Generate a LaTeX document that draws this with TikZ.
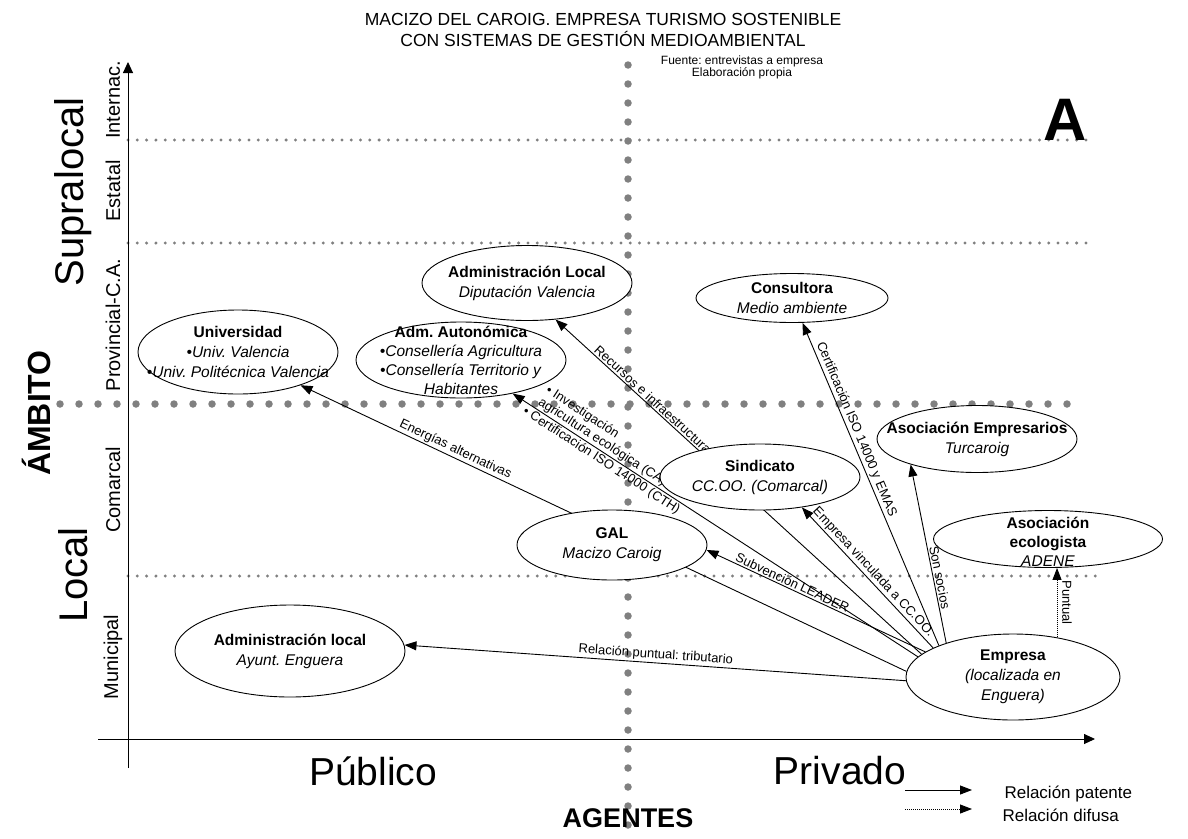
\documentclass[tikz,border=0pt]{standalone}
\usepackage{fontspec}
\setmainfont{Liberation Sans}
\frenchspacing
\usetikzlibrary{shapes.geometric, arrows.meta, positioning, calc, backgrounds}

\begin{document}
\begin{tikzpicture}[x=1pt, y=-1pt,
        blob/.style={ellipse, draw, line width=0.9pt, fill=white, inner sep=0pt},
        ntext/.style={align=center, inner sep=0pt, font=\fontsize{15.5}{20}\selectfont},
        rel/.style={-{Triangle[length=12pt, width=9pt]}, line width=0.9pt},
        diffuse/.style={rel, dash pattern=on 1pt off 1pt},
        elabel/.style={sloped, inner sep=1.5pt, font=\fontsize{13}{14}\selectfont},
        axis/.style={-{Triangle[length=11pt, width=10pt]}, line width=0.9pt},
        bigdots/.style={gray, line width=7.5pt, line cap=round, dash pattern=on 0pt off 19pt},
        smalldots/.style={gray, line width=3.3pt, line cap=round, dash pattern=on 0pt off 9.3pt},
        level/.style={rotate=90, inner sep=0pt, font=\fontsize{20}{20}\selectfont},
        scale label/.style={rotate=90, inner sep=0pt, font=\fontsize{40}{40}\selectfont}
    ]
        \useasboundingbox (0,0) rectangle (1188,838);

        % Titles
        \node[align=center, font=\fontsize{17.5}{21}\selectfont] (title) at (603,30)
            {MACIZO DEL CAROIG. EMPRESA TURISMO SOSTENIBLE\\CON SISTEMAS DE GESTIÓN MEDIOAMBIENTAL};
        \node[align=center, font=\fontsize{12}{12}\selectfont] (source) at (742,67)
            {Fuente: entrevistas a empresa\\Elaboración propia};
        \node[font=\bfseries\fontsize{60}{60}\selectfont] (mark) at (1065,120) {A};

        % Axis texts
        \node[level] (lvInt) at (113,100) {Internac.};
        \node[level] (lvEst) at (113,191) {Estatal};
        \node[level] (lvProv) at (113,325) {Provincial-C.A.};
        \node[level] (lvCom) at (113,490) {Comarcal};
        \node[level] (lvMun) at (113,657) {Municipal};
        \node[scale label] (supra) at (73,192) {Supralocal};
        \node[scale label] (local) at (73,575) {Local};
        \node[rotate=90, font=\bfseries\fontsize{32}{32}\selectfont] (ambito) at (36,413) {ÁMBITO};
        \node[font=\fontsize{39}{39}\selectfont] (pub) at (373,771) {Público};
        \node[font=\fontsize{39}{39}\selectfont] (priv) at (840,771) {Privado};
        \node[font=\bfseries\fontsize{27}{27}\selectfont] (agentes) at (628,818) {AGENTES};

        % Agents
        \node[blob, minimum width=200pt, minimum height=84pt] (univ) at (238,352) {};
        \node[ntext] at (univ) {\textbf{Universidad}\\\textit{•Univ. Valencia}\\\textit{•Univ. Politécnica Valencia}};
        \node[blob, minimum width=210pt, minimum height=76pt] (admA) at (461,360) {};
        \node[ntext, font=\fontsize{15.5}{19}\selectfont] at (admA) {\textbf{Adm. Autonómica}\\\textit{•Consellería Agricultura}\\\textit{•Consellería Territorio y}\\\textit{Habitantes}};
        \node[blob, minimum width=210pt, minimum height=75pt] (admL) at (527,283) {};
        \node[ntext] at (admL) {\textbf{Administración Local}\\\textit{Diputación Valencia}};
        \node[blob, minimum width=192pt, minimum height=49pt] (cons) at (792,298) {};
        \node[ntext] at (cons) {\textbf{Consultora}\\\textit{Medio ambiente}};
        \node[blob, minimum width=200pt, minimum height=67pt] (asocE) at (977,439) {};
        \node[ntext] at (asocE) {\textbf{Asociación Empresarios}\\\textit{Turcaroig}};
        \node[blob, minimum width=200pt, minimum height=66pt] (sind) at (760,477) {};
        \node[ntext] at (sind) {\textbf{Sindicato}\\\textit{CC.OO. (Comarcal)}};
        \node[blob, minimum width=190pt, minimum height=70pt] (gal) at (612,545) {};
        \node[ntext] at (gal) {\textbf{GAL}\\\textit{Macizo Caroig}};
        \node[blob, minimum width=229pt, minimum height=57pt] (aeco) at (1048,539) {};
        \node[ntext, font=\fontsize{15.5}{19}\selectfont] at ([yshift=-3pt]aeco) {\textbf{Asociación}\\\textbf{ecologista}\\\textit{ADENE}};
        \node[blob, minimum width=230pt, minimum height=92pt] (ayunt) at (290,651) {};
        \node[ntext] at (ayunt) {\textbf{Administración local}\\\textit{Ayunt. Enguera}};
        \node[blob, minimum width=214pt, minimum height=86pt] (empresa) at (1013,677) {};
        \node[ntext] at (empresa) {\textbf{Empresa}\\\textit{(localizada en}\\\textit{Enguera)}};

        % Legend
        \coordinate (lgA) at (905,790);
        \coordinate (lgB) at (972,790);
        \coordinate (lgC) at (905,809);
        \coordinate (lgD) at (972,809);
        \node[anchor=west, font=\fontsize{17}{17}\selectfont] (lgPat) at (1001,794) {Relación patente};
        \node[anchor=west, font=\fontsize{17}{17}\selectfont] (lgDif) at (999,815) {Relación difusa};

        \begin{pgfonlayer}{background}
            % Grid of scales and agents
            \draw[smalldots] (128,140) -- (1095,140);
            \draw[smalldots] (128,243) -- (1095,243);
            \draw[bigdots] (60,404) -- (1085,404);
            \draw[smalldots] (128,576) -- (1097,576);
            \draw[bigdots] (628,65) -- (628,830);

            % Axes
            \draw[axis] (128,768) -- (128,62);
            \draw[axis] (98,739) -- (1095,739);

            % Relations of the firm
            \draw[rel] (empresa.182) -- node[elabel, above, pos=0.5] {Relación puntual: tributario} (ayunt.3);
            \draw[rel] (empresa.177) -- node[elabel, above, pos=0.75] {Energías alternativas} (univ.-28);
            \draw[rel] (empresa.168) -- node[elabel, above, pos=0.79, align=left] {• Investigación\\agricultura ecológica (CA)}
                node[elabel, below, pos=0.77] {• Certificación ISO 14000 (CTH)} (admA.-33);
            \draw[rel] (empresa.166) -- node[elabel, above, pos=0.74] {Recursos e infraestructuras} (admL.-52);
            \draw[rel] (empresa.164) -- node[elabel, above, pos=0.62] {Subvención LEADER} (gal.-3);
            \draw[rel] (empresa.160) -- node[elabel, above, pos=0.5] {Empresa vinculada a CC.OO.} (sind.-36);
            \draw[rel] (empresa.157) -- node[elabel, above, pos=0.66] {Certificación ISO 14000 y EMAS} (cons.-67);
            \draw[rel] (empresa.153) -- node[elabel, above, pos=0.36] {Son socios} (asocE.201);
            \draw[diffuse] (empresa.42) -- node[midway, xshift=10pt, rotate=-90, inner sep=0pt, font=\fontsize{13}{14}\selectfont] {Puntual} (empresa.42 |- aeco.south);

            % Legend arrows
            \draw[rel] (lgA) -- (lgB);
            \draw[diffuse] (lgC) -- (lgD);
        \end{pgfonlayer}
    \end{tikzpicture}
\end{document}
